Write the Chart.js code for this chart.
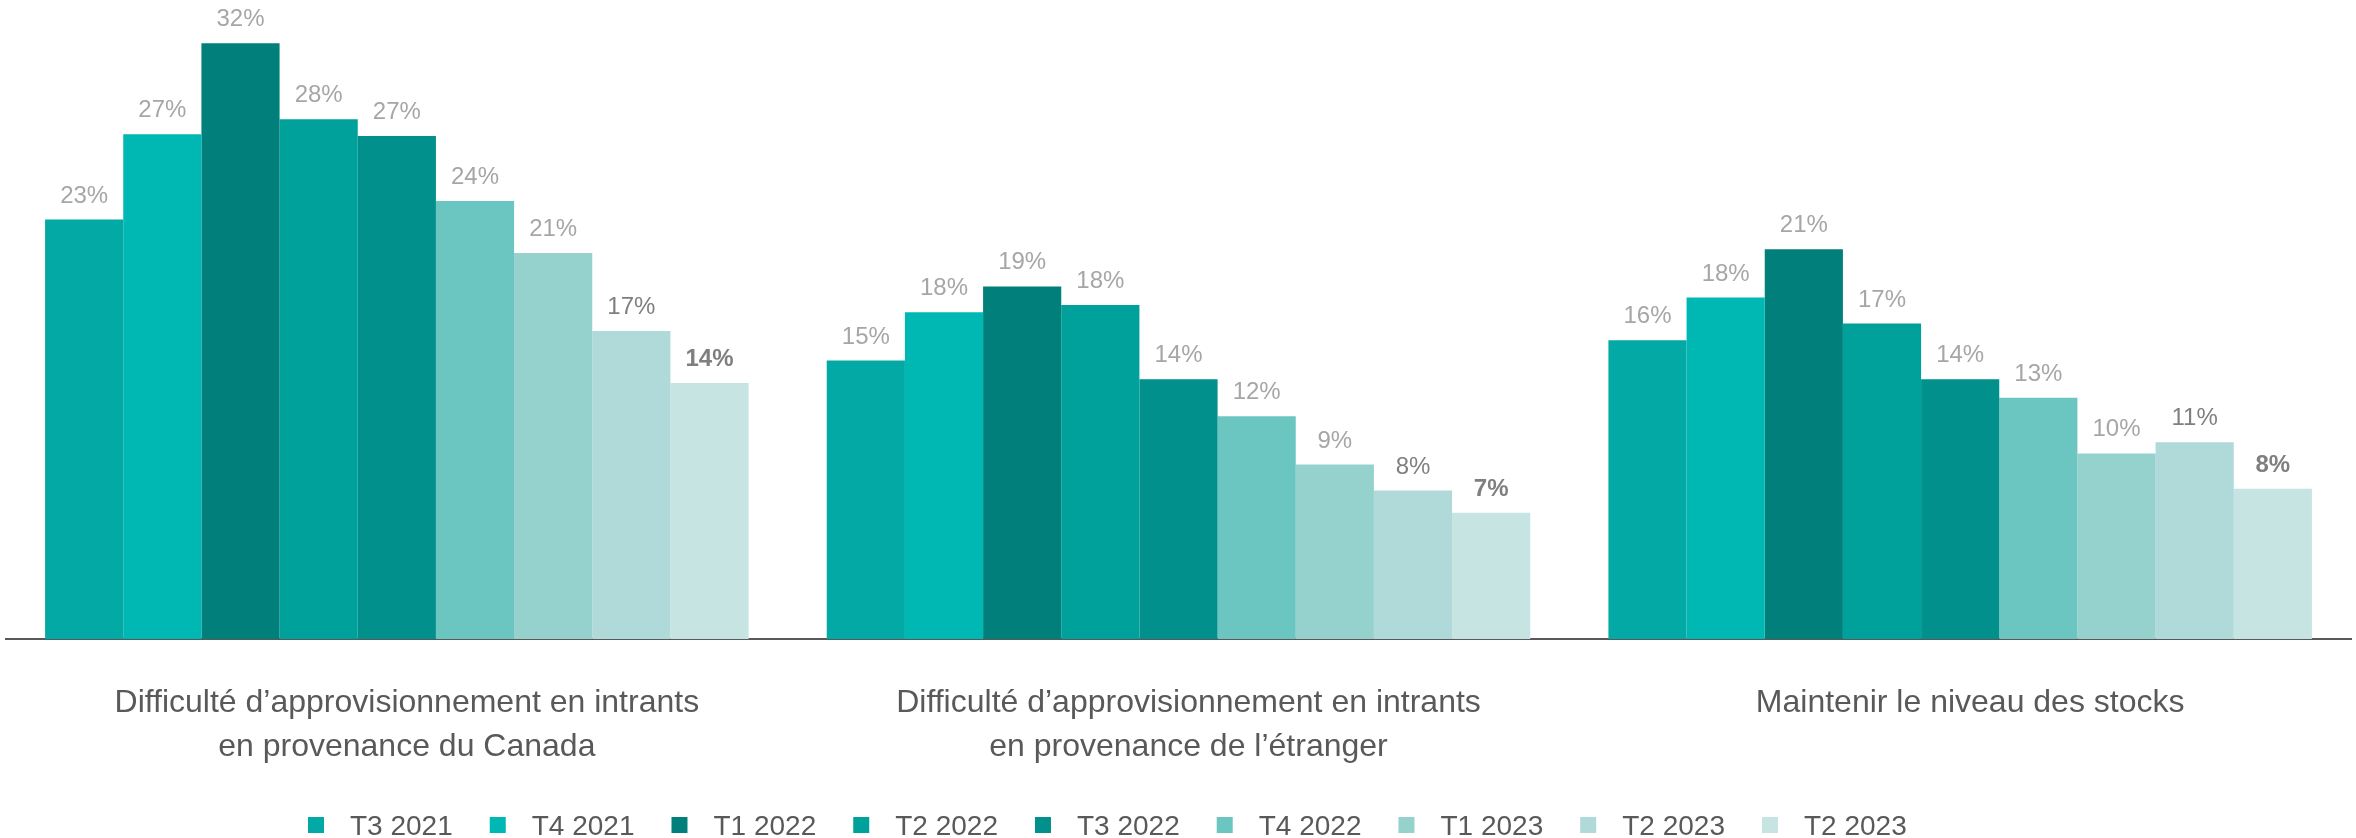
<!DOCTYPE html>
<html lang="fr">
<head>
  <meta charset="UTF-8">
  <title>Difficultés d'approvisionnement et stocks</title>
  <script src="https://cdn.jsdelivr.net/npm/chart.js"></script>
  <style>
    html, body { margin: 0; padding: 0; background: #fff; }
    .chart-box { width: 2356px; height: 838px; position: relative; }
  </style>
</head>
<body>
  <div class="chart-box"><canvas id="graphique"></canvas></div>

  <script>
    // Catégories (axe des x)
    const categories = [
      ["Difficulté d’approvisionnement en intrants", "en provenance du Canada"],
      ["Difficulté d’approvisionnement en intrants", "en provenance de l’étranger"],
      ["Maintenir le niveau des stocks"]
    ];

    // Trimestres (légende)
    const trimestres = ["T3 2021", "T4 2021", "T1 2022", "T2 2022", "T3 2022", "T4 2022", "T1 2023", "T2 2023", "T2 2023"];

    const t3_2021 = [22.6, 15.0, 16.1];
    const t4_2021 = [27.2, 17.6, 18.4];
    const t1_2022 = [32.1, 19.0, 21.0];
    const t2_2022 = [28.0, 18.0, 17.0];
    const t3_2022 = [27.1, 14.0, 14.0];
    const t4_2022 = [23.6, 12.0, 13.0];
    const t1_2023 = [20.8, 9.4, 10.0];
    const t2_2023a = [16.6, 8.0, 10.6];
    const t2_2023b = [13.8, 6.8, 8.1];

    const series = [t3_2021, t4_2021, t1_2022, t2_2022, t3_2022, t4_2022, t1_2023, t2_2023a, t2_2023b];
    const couleurs = ["#02a9a5", "#00b8b3", "#01807b", "#01a19b", "#01908b", "#6bc5c1", "#95d1cd", "#afdad9", "#c6e4e2"];

    const police = "'Liberation Sans', Arial, Helvetica, sans-serif";

    // étiquettes de valeur au-dessus des barres
    const etiquettes = {
      id: "etiquettes",
      afterDatasetsDraw(chart) {
        const ctx = chart.ctx;
        const n = chart.data.datasets.length;
        ctx.save();
        ctx.textAlign = "center";
        ctx.textBaseline = "alphabetic";
        chart.data.datasets.forEach((ds, i) => {
          const meta = chart.getDatasetMeta(i);
          ctx.font = (i === n - 1 ? "bold " : "") + "24px " + police;
          ctx.fillStyle = i >= n - 2 ? "#7f7f7f" : "#a6a6a6";
          meta.data.forEach((bar, j) => {
            ctx.fillText(Math.round(ds.data[j]) + "%", bar.x, bar.y - 17);
          });
        });
        ctx.restore();
      }
    };

    // légende dessinée à la main (espacement comme l'original)
    const legende = {
      id: "legende",
      afterDraw(chart) {
        const ctx = chart.ctx;
        ctx.save();
        ctx.font = "28px " + police;
        ctx.textBaseline = "alphabetic";
        ctx.textAlign = "left";
        let x = 308;
        chart.data.datasets.forEach(ds => {
          ctx.fillStyle = ds.backgroundColor;
          ctx.fillRect(x, 817, 16, 16);
          ctx.fillStyle = "#595959";
          ctx.fillText(ds.label, x + 42, 835);
          x += 42 + ctx.measureText(ds.label).width + 37;
        });
        ctx.restore();
      }
    };

    new Chart(document.getElementById("graphique"), {
      type: "bar",
      data: {
        labels: categories,
        datasets: series.map((valeurs, i) => ({
          label: trimestres[i],
          data: valeurs,
          backgroundColor: couleurs[i],
          borderWidth: 0,
          barPercentage: 1,
          categoryPercentage: 0.9
        }))
      },
      options: {
        responsive: true,
        maintainAspectRatio: false,
        animation: false,
        layout: { padding: { top: 8, left: 6, right: 5, bottom: 27 } },
        plugins: {
          legend: { display: false },
          tooltip: { enabled: false }
        },
        scales: {
          x: {
            grid: { display: false, drawTicks: false },
            border: { color: "#595959", width: 2 },
            ticks: {
              color: "#595959",
              font: { family: police, size: 32, lineHeight: 1.375 },
              padding: 42,
              labelOffset: 10,
              maxRotation: 0,
              autoSkip: false
            }
          },
          y: { display: false, min: 0, max: 34 }
        }
      },
      plugins: [etiquettes, legende]
    });
  </script>
</body>
</html>
